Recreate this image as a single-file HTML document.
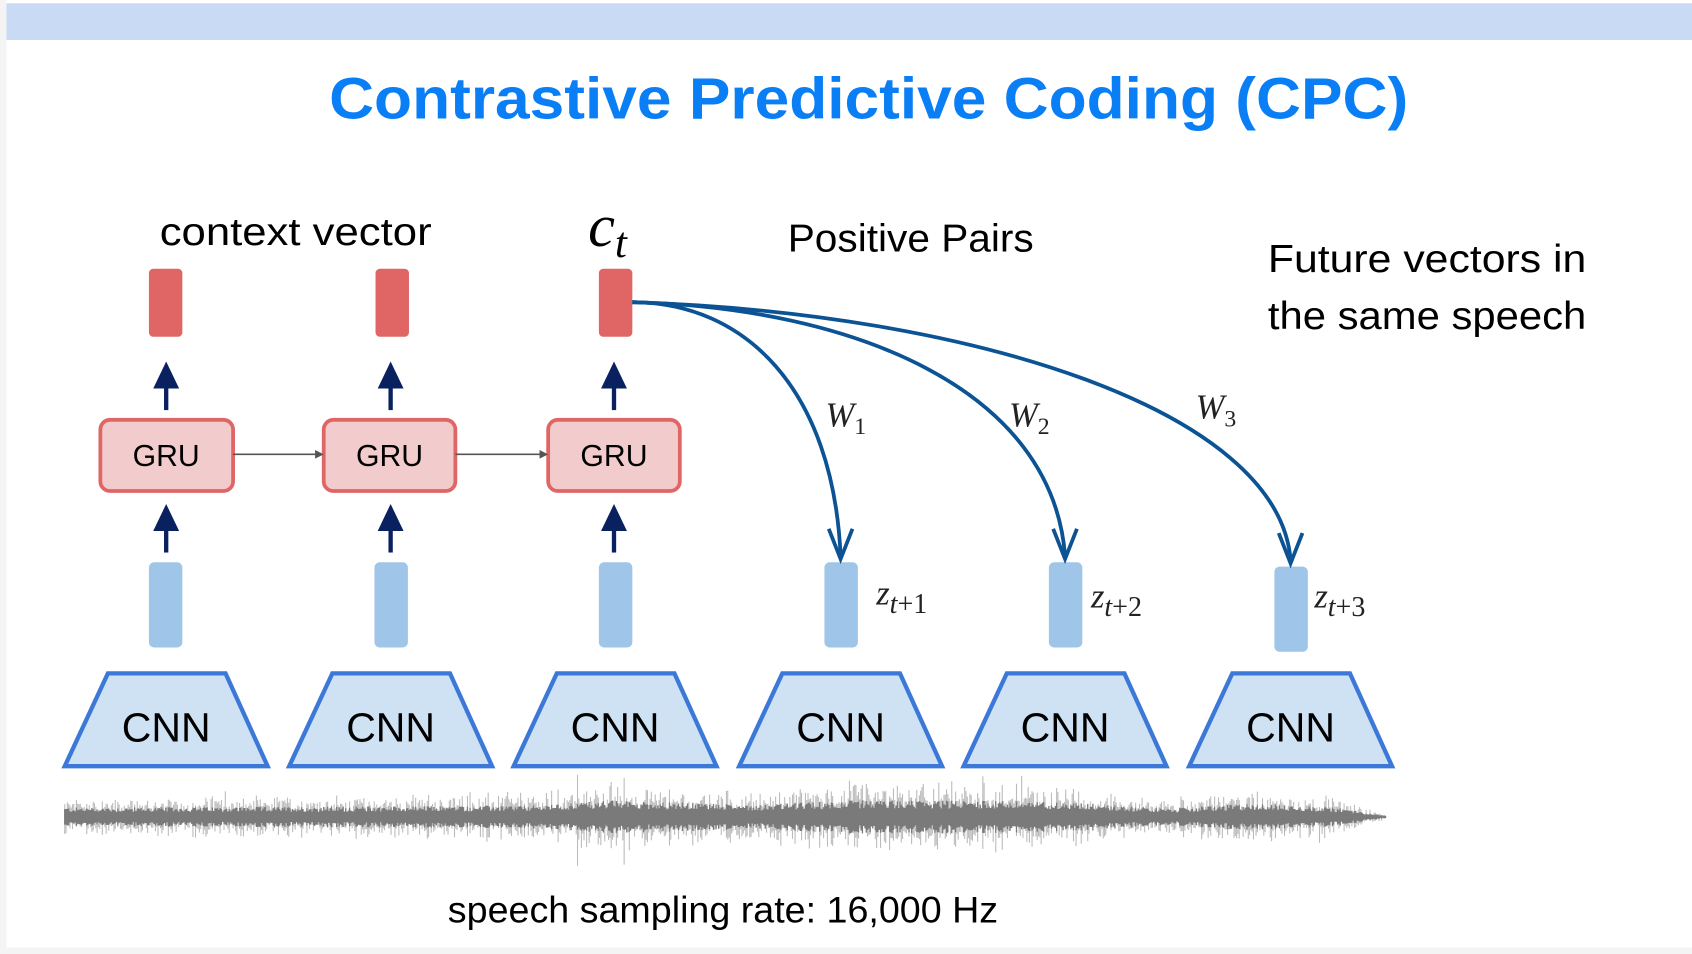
<!DOCTYPE html>
<html><head><meta charset="utf-8"><style>
html,body{margin:0;padding:0;background:#f4f4f4;}
svg{display:block;}
</style></head><body>
<svg id="s" width="1692" height="954" viewBox="0 0 1568 884" xmlns="http://www.w3.org/2000/svg" font-family="Liberation Sans, sans-serif">
<rect x="0" y="0" width="1568" height="884" fill="#f4f4f4"/>
<rect x="6" y="0" width="1562" height="878" fill="#ffffff"/>
<rect x="6" y="3" width="1562" height="34" fill="#c9daf5"/>
<text x="805" y="110" text-anchor="middle" font-size="54" font-weight="bold" fill="#0a7ff5" textLength="1000" lengthAdjust="spacingAndGlyphs">Contrastive Predictive Coding (CPC)</text>

<text x="148" y="227" font-size="36" fill="#000" textLength="252" lengthAdjust="spacingAndGlyphs">context vector</text>
<text x="545" y="228" font-size="56" font-style="italic" font-family="Liberation Serif, serif">c<tspan font-size="40" dy="10">t</tspan></text>
<text x="730" y="233" font-size="36" textLength="228" lengthAdjust="spacingAndGlyphs">Positive Pairs</text>
<text x="1175" y="252" font-size="36" textLength="295" lengthAdjust="spacingAndGlyphs">Future vectors in</text>
<text x="1175" y="305" font-size="36" textLength="295" lengthAdjust="spacingAndGlyphs">the same speech</text>

<g fill="#e06666">
<rect x="138" y="249" width="31" height="63" rx="4"/>
<rect x="348" y="249" width="31" height="63" rx="4"/>
<rect x="555" y="249" width="31" height="63" rx="4"/>
</g>
<g fill="#0a2160" stroke="#0a2160">
<g id="ua"><line x1="154" y1="380" x2="154" y2="355" stroke-width="4"/><polygon points="154,335 142,360 166,360" stroke="none"/></g>
<use href="#ua" x="208"/><use href="#ua" x="415"/>
<use href="#ua" y="132"/><use href="#ua" x="208" y="132"/><use href="#ua" x="415" y="132"/>
</g>
<g fill="#f2cccc" stroke="#e06666" stroke-width="3.5">
<rect x="93" y="389" width="123" height="66" rx="9"/>
<rect x="300" y="389" width="122" height="66" rx="9"/>
<rect x="508" y="389" width="122" height="66" rx="9"/>
</g>
<g font-size="28" text-anchor="middle" fill="#000">
<text x="154" y="432">GRU</text><text x="361" y="432">GRU</text><text x="569" y="432">GRU</text>
</g>
<g stroke="#555" stroke-width="1.5" fill="#555">
<line x1="216" y1="421" x2="294" y2="421"/><polygon points="300,421 292,417 292,425" stroke="none"/>
<line x1="422" y1="421" x2="502" y2="421"/><polygon points="508,421 500,417 500,425" stroke="none"/>
</g>
<g fill="#9fc5e8">
<rect x="138" y="521" width="31" height="79" rx="5"/>
<rect x="347" y="521" width="31" height="79" rx="5"/>
<rect x="555" y="521" width="31" height="79" rx="5"/>
<rect x="764" y="521" width="31" height="79" rx="5"/>
<rect x="972" y="521" width="31" height="79" rx="5"/>
<rect x="1181" y="525" width="31" height="79" rx="5"/>
</g>
<g fill="#cfe2f3" stroke="#3c78d8" stroke-width="4">
<polygon id="cn" points="100,624 209,624 248,710 60,710"/>
<use href="#cn" x="208"/><use href="#cn" x="416"/><use href="#cn" x="625"/><use href="#cn" x="833"/><use href="#cn" x="1042"/>
</g>
<g font-size="38" text-anchor="middle" fill="#000">
<text x="154" y="687">CNN</text><text x="362" y="687">CNN</text><text x="570" y="687">CNN</text><text x="779" y="687">CNN</text><text x="987" y="687">CNN</text><text x="1196" y="687">CNN</text>
</g>
<g fill="none" stroke="#0b5394" stroke-width="3.5">
<path d="M586,280 C690,280 772,360 779,515"/>
<path d="M586,280 C790,285 975,360 987,515"/>
<path d="M586,280 C900,290 1185,380 1196,519"/>
<path d="M768,490 L779,518 L790,490"/>
<path d="M976,490 L987,518 L998,490"/>
<path d="M1185,494 L1196,522 L1207,494"/>
</g>
<g font-family="Liberation Serif, serif" font-style="italic" font-size="32" fill="#222">
<text x="765" y="395">W<tspan font-size="22" dy="7" font-style="normal">1</tspan></text>
<text x="935" y="395">W<tspan font-size="22" dy="7" font-style="normal">2</tspan></text>
<text x="1108" y="388">W<tspan font-size="22" dy="7" font-style="normal">3</tspan></text>
<text x="812" y="560">z<tspan font-size="26" dy="8">t</tspan><tspan font-size="26" font-style="normal">+1</tspan></text>
<text x="1011" y="563">z<tspan font-size="26" dy="8">t</tspan><tspan font-size="26" font-style="normal">+2</tspan></text>
<text x="1218" y="563">z<tspan font-size="26" dy="8">t</tspan><tspan font-size="26" font-style="normal">+3</tspan></text>
</g>
<g id="wave"></g>
<text x="415" y="855" font-size="34" textLength="510" lengthAdjust="spacingAndGlyphs">speech sampling rate: 16,000 Hz</text>
</svg>
<script>
(function(){
var g=document.getElementById('wave'),s=12345;
function r(){s=(s*1103515245+12345)%2147483648;return s/2147483648;}
var env=[[60,9],[300,10],[500,11],[560,16],[700,12],[790,16],[905,16],[1000,14],[1080,8],[1160,13],[1240,9],[1285,1]];
function E(x){for(var i=0;i<env.length-1;i++){if(x>=env[i][0]&&x<=env[i+1][0]){var t=(x-env[i][0])/(env[i+1][0]-env[i][0]);return env[i][1]*(1-t)+env[i+1][1]*t;}}return 1;}
var d1='',d2='';
for(var x=60;x<1285;x+=1.2){var a=E(x)*(0.6+0.6*r());var b=a*(r()<0.02?2.6:1.3);
d2+='M'+x.toFixed(1)+' '+(757-b*r()-a*0.5).toFixed(1)+'V'+(757+b*r()+a*0.5).toFixed(1);
d1+='M'+x.toFixed(1)+' '+(757-a*0.8).toFixed(1)+'V'+(757+a*0.8).toFixed(1);}
g.innerHTML='<path d="'+d2+'" stroke="#bbb" stroke-width="1"/><path d="'+d1+'" stroke="#7a7a7a" stroke-width="1.2"/>';
})();
</script>
</body></html>
